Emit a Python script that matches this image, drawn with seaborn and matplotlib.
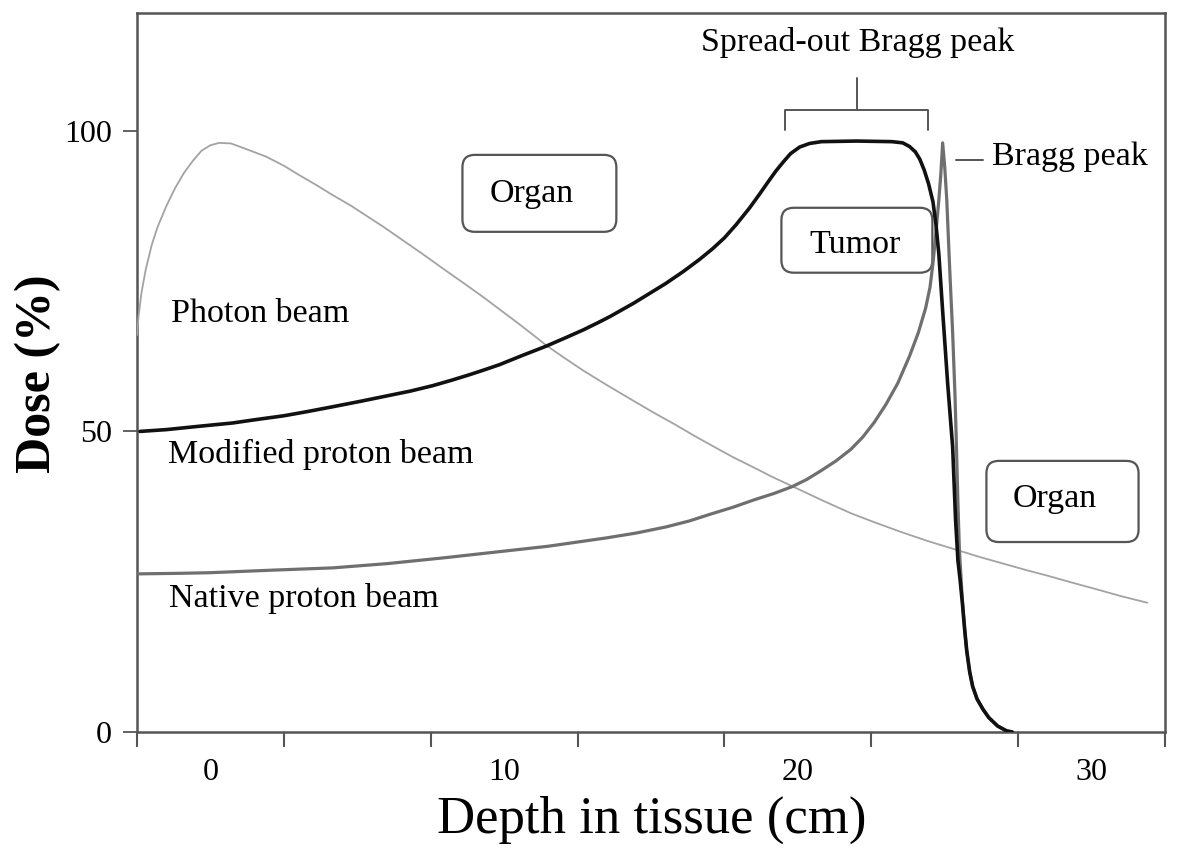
import numpy as np
import pandas as pd
import matplotlib
matplotlib.use("Agg")
import matplotlib.pyplot as plt
import seaborn as sns
from matplotlib.patches import FancyBboxPatch
from matplotlib.ticker import FixedLocator, FixedFormatter, NullFormatter

# photon beam depth-dose
photon_x = [-2.5, -2.45, -2.35, -2.2, -2.0, -1.8, -1.5, -1.2, -0.9, -0.6, -0.3, 0.0, 0.3,
            0.7, 1.2, 1.9, 2.5, 3.0, 3.6, 4.2, 4.8, 5.3, 5.9, 6.4, 7.2, 8.0, 8.7, 9.3,
            9.9, 10.5, 11.0, 11.44, 12.0, 12.7, 13.5, 14.4, 15.1, 15.8, 16.5, 17.2, 17.8,
            18.5, 19.1, 19.8, 20.8, 21.8, 22.6, 23.5, 24.4, 25.4, 26.2, 27.0, 27.8, 28.5,
            29.3, 30.2, 31.0, 31.9]
photon_y = [66, 69, 73, 77, 81, 84, 87.5, 90.5, 93, 95, 96.7, 97.6, 98,
            97.9, 97, 95.7, 94.2, 92.7, 91, 89.2, 87.5, 85.9, 84, 82.3, 79.6, 76.8, 74.4, 72.3,
            70.1, 67.9, 66, 64.3, 62.4, 60.1, 57.7, 55.1, 53.1, 51.2, 49.2, 47.3, 45.7,
            44, 42.5, 40.9, 38.6, 36.4, 34.9, 33.3, 31.8, 30.3, 29.1, 28, 26.9, 26,
            24.9, 23.7, 22.6, 21.5]

# modified (spread-out) proton beam
modified_x = [-2.4, -1.5, -0.5, 0.75, 1.6, 2.5, 3.3, 4.16, 5.1, 6.0, 6.8, 7.56, 8.2, 8.8,
              9.3, 9.84, 10.6, 11.44, 12.1, 12.7, 13.2, 13.6, 14.0, 14.4, 14.9, 15.5, 16.1,
              16.65, 17.1, 17.5, 17.9, 18.36, 18.7, 19.0, 19.25, 19.5, 19.75, 20.06, 20.4,
              20.8, 22.0, 23.2, 23.57, 23.8, 24.0, 24.15, 24.3, 24.45, 24.6, 24.7, 24.8,
              24.93, 25.1, 25.27, 25.37, 25.45, 25.52, 25.6, 25.68, 25.75, 25.85, 25.95,
              26.1, 26.3, 26.5, 26.8, 27.1, 27.3]
modified_y = [50, 50.3, 50.8, 51.4, 52, 52.6, 53.3, 54.1, 55, 55.9, 56.7, 57.6, 58.5, 59.4,
              60.2, 61.1, 62.6, 64.2, 65.6, 66.9, 68.1, 69.1, 70.2, 71.3, 72.8, 74.6, 76.6,
              78.6, 80.4, 82.2, 84.4, 87.2, 89.5, 91.6, 93.3, 94.8, 96.2, 97.3, 97.9,
              98.2, 98.3, 98.2, 98, 97.4, 96.5, 95.3, 93.5, 91.2, 88.2, 84.5, 79.5,
              70, 58, 47.4, 35.3, 28.5, 25.5, 21.5, 17, 13.5, 10, 7.6,
              5.5, 3.8, 2.4, 1, 0.2, 0]

# native proton beam (single Bragg peak)
native_x = [-2.5, -1.0, 0, 2, 4.16, 6, 8, 9.84, 11.5, 12.5, 13.5, 14.5, 15.5, 16.3, 17,
            17.8, 18.5, 19.2, 19.8, 20.3, 20.8, 21.3, 21.8, 22.2, 22.6, 23.0, 23.4, 23.8,
            24.1, 24.35, 24.5, 24.6, 24.7, 24.8, 24.87, 24.93, 25.0, 25.07, 25.17, 25.27,
            25.35, 25.4, 25.45, 25.5, 25.6, 25.68, 25.75, 25.85, 25.95, 26.1, 26.3, 26.5,
            26.8, 27.1, 27.3]
native_y = [26.3, 26.4, 26.5, 26.9, 27.3, 28, 29, 30, 30.9, 31.6, 32.3, 33.1, 34.1, 35.1, 36.2,
            37.4, 38.6, 39.7, 40.8, 42, 43.5, 45.1, 47, 49, 51.5, 54.5, 58, 62.5,
            66.4, 70.5, 74, 78, 83, 88.5, 93, 98, 94, 88.5, 77, 66.4,
            56, 47.4, 38, 30.3, 22, 17, 13.5, 10, 7.6, 5.5, 3.8, 2.4,
            1, 0.2, 0]

x_tick_labels = ["0", "10", "20", "30"]
y_ticks = [0, 50, 100]

sns.set_theme(style="white")
plt.rcParams["font.family"] = ["Liberation Serif", "DejaVu Serif"]
plt.rcParams["text.color"] = "black"
plt.rcParams["axes.labelcolor"] = "black"

fig = plt.figure(figsize=(11.81, 8.55), dpi=100)
ax = fig.add_axes([137 / 1181, 1 - 732 / 855, 1028 / 1181, 719 / 855])

df_ph = pd.DataFrame({"depth": photon_x, "dose": photon_y})
df_mod = pd.DataFrame({"depth": modified_x, "dose": modified_y})
df_nat = pd.DataFrame({"depth": native_x, "dose": native_y})

sns.lineplot(data=df_ph, x="depth", y="dose", color="#a3a3a3", linewidth=1.3,
             sort=False, estimator=None, ax=ax, zorder=3)
sns.lineplot(data=df_nat, x="depth", y="dose", color="#6f6f6f", linewidth=2.3,
             sort=False, estimator=None, ax=ax, zorder=3)
sns.lineplot(data=df_mod, x="depth", y="dose", color="#111111", linewidth=2.6,
             sort=False, estimator=None, ax=ax, zorder=4)

ax.set_xlim(-2.5, 32.5)
ax.set_ylim(0, 119.6)

for s in ax.spines.values():
    s.set_color("#555555")
    s.set_linewidth(1.8)

ax.set_xticks(np.arange(-2.5, 33, 5))
ax.xaxis.set_major_formatter(NullFormatter())
ax.xaxis.set_minor_locator(FixedLocator([0, 10, 20, 30]))
ax.xaxis.set_minor_formatter(FixedFormatter(x_tick_labels))
ax.tick_params(axis="x", which="major", direction="out", length=11, width=1.5,
               color="#555555", bottom=True)
ax.tick_params(axis="x", which="minor", length=0, pad=19, labelsize=23, bottom=True,
               labelcolor="black")

ax.set_yticks(y_ticks)
ax.set_yticklabels([str(v) for v in y_ticks])
ax.tick_params(axis="y", direction="out", length=10, width=1.3, color="#555555",
               pad=8, labelsize=23, left=True, labelcolor="black")

ax.set_xlabel("Depth in tissue (cm)", fontsize=38, va="center")
ax.xaxis.set_label_coords(0.501, -0.1224)
ax.set_ylabel("Dose (%)", fontsize=36, fontweight="bold", va="center", ha="center")
ax.yaxis.set_label_coords(-0.0963, 0.498)

fs = 24.5
ax.text(-1.33, 68.2, "Photon beam", fontsize=fs, ha="left", va="baseline")
ax.text(-1.46, 44.8, "Modified proton beam", fontsize=fs, ha="left", va="baseline")
ax.text(-1.40, 20.8, "Native proton beam", fontsize=fs, ha="left", va="baseline")
ax.text(22.03, 113.3, "Spread-out Bragg peak", fontsize=fs, ha="center", va="baseline")
ax.text(26.6, 94.3, "Bragg peak", fontsize=fs, ha="left", va="baseline")

# rounded boxes with labels
boxes = [(8.58, 83.2, 5.24, 12.8, 10.93, 88.2, "Organ"),
         (19.44, 76.4, 5.14, 10.8, 21.93, 79.7, "Tumor"),
         (26.42, 31.6, 5.18, 13.5, 28.74, 37.4, "Organ")]
for bx, by, bw, bh, tx, ty, lab in boxes:
    p = FancyBboxPatch((bx, by), bw, bh, boxstyle="round,pad=0,rounding_size=0.42",
                       mutation_aspect=29.37 / 6.01, facecolor="white",
                       edgecolor="#555555", linewidth=1.6, zorder=1)
    ax.add_patch(p)
    ax.text(tx, ty, lab, fontsize=fs, ha="center", va="baseline", zorder=5)

# bracket over the spread-out peak
bc = "#555555"
ax.plot([19.55, 19.55, 24.42, 24.42], [100.2, 103.5, 103.5, 100.2], color=bc, lw=1.4)
ax.plot([22.0, 22.0], [103.5, 108.8], color=bc, lw=1.4)
ax.plot([25.4, 26.29], [95.2, 95.2], color=bc, lw=1.4)

fig.savefig("out.png", dpi=100)
